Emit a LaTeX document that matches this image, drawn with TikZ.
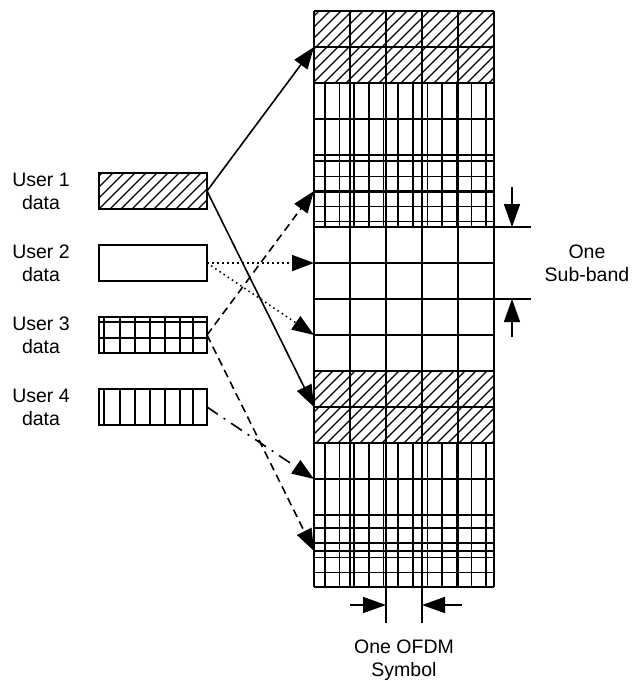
\documentclass[tikz,border=0pt]{standalone}
\usepackage{fontspec}
\setmainfont{Liberation Sans}
\usetikzlibrary{arrows.meta}
\newcommand\myhatch[4]{%
  \begin{scope}
  \clip (#1,#2) rectangle (#3,#4);
  \pgfmathsetmacro\hs{floor((#1+#2)/11)*11}
  \pgfmathsetmacro\he{#3+#4}
  \pgfmathsetmacro\hn{\hs+11}
  \foreach \k in {\hs,\hn,...,\he} \draw[hatchline] (\k-#4,#4) -- (\k-#2,#2);
  \end{scope}}
\begin{document}
\begin{tikzpicture}[x=1pt,y=-1pt,
  gridline/.style={line width=2pt},
  patline/.style={line width=1.7pt},
  hatchline/.style={line width=1.1pt},
  databox/.style={draw,line width=2pt,minimum width=108pt,minimum height=36pt,inner sep=0pt,outer sep=0pt},
  lbl/.style={align=center,inner sep=0pt,font=\fontsize{19.5}{23}\selectfont},
  tip/.style={-{Triangle[length=22pt,width=16pt]}},
  conn/.style={line width=1.6pt,tip},
  dotconn/.style={conn,dash pattern=on 1.5pt off 3.5pt},
  dashconn/.style={conn,dash pattern=on 8pt off 5pt},
  dashdotconn/.style={conn,dash pattern=on 13pt off 7pt on 2pt off 7pt},
  marker/.style={line width=1.6pt},
  markarrow/.style={line width=1.6pt,-{Triangle[length=23pt,width=16pt]}}
]
\useasboundingbox (0,0) rectangle (635,681);
\fill[white] (0,0) rectangle (635,681);

% ---- patterns in the grid ----
\myhatch{314}{11}{494}{83}
\myhatch{314}{371}{494}{443}
\foreach \yy/\yb in {83/155,155/227,443/515,515/587}
  \foreach \k in {0,...,11}
    \draw[patline] ({325+14.64*\k},\yy) -- ({325+14.64*\k},\yb);
\foreach \yy in {161,176.5,192,206.5,221.5,528,543,557.5,572.5}
  \draw[patline] (314,\yy) -- (494,\yy);

% ---- grid ----
\foreach \xx in {314,350,386,422,458,494}
  \draw[gridline] (\xx,11) -- (\xx,587);
\foreach \k in {0,...,16}
  \draw[gridline] (314,{11+36*\k}) -- (494,{11+36*\k});

% ---- data boxes ----
\myhatch{99}{173}{207}{209}
\foreach \xx in {104,120,135,150,165,180,193} {
  \draw[patline] (\xx,317) -- (\xx,353);
  \draw[patline] (\xx,389) -- (\xx,425);
}
\foreach \yy in {322,338}
  \draw[patline] (99,\yy) -- (207,\yy);
\node[databox] (u1) at (153,191) {};
\node[databox] (u2) at (153,263) {};
\node[databox] (u3) at (153,335) {};
\node[databox] (u4) at (153,407) {};

% ---- labels ----
\node[lbl] (l1) at (41,191) {User 1\\data};
\node[lbl] (l2) at (41,263) {User 2\\data};
\node[lbl] (l3) at (41,335) {User 3\\data};
\node[lbl] (l4) at (41,407) {User 4\\data};

% ---- targets ----
\coordinate (g1a) at (314,47);
\coordinate (g1b) at (314,407);
\coordinate (g2a) at (314,263);
\coordinate (g2b) at (314,335);
\coordinate (g3a) at (314,191);
\coordinate (g3b) at (314,551);
\coordinate (g4a) at (314,479);

% ---- connectors ----
\draw[conn] (u1.east) -- (g1a);
\draw[conn] (u1.east) -- (g1b);
\draw[dotconn] (u2.east) -- (g2a);
\draw[dotconn] (u2.east) -- (g2b);
\draw[dashconn] (u3.east) -- (g3a);
\draw[dashconn] (u3.east) -- (g3b);
\draw[dashdotconn] (u4.east) -- (g4a);

% ---- sub-band marker ----
\coordinate (sbt) at (494,227);
\coordinate (sbte) at (531,227);
\coordinate (sbb) at (494,299);
\coordinate (sbbe) at (531,299);
\coordinate (sbas) at (512,187);
\coordinate (sbat) at (512,227);
\coordinate (sbbs) at (512,337);
\coordinate (sbbt) at (512,299);
\draw[marker] (sbt) -- (sbte);
\draw[marker] (sbb) -- (sbbe);
\draw[markarrow] (sbas) -- (sbat);
\draw[markarrow] (sbbs) -- (sbbt);
\node[lbl] (sbl) at (587,263.5) {One\\Sub-band};

% ---- OFDM symbol marker ----
\coordinate (ofl0) at (386,587);
\coordinate (ofl1) at (386,623);
\coordinate (ofr0) at (422,587);
\coordinate (ofr1) at (422,623);
\coordinate (ofas) at (350,605);
\coordinate (ofat) at (386,605);
\coordinate (ofbs) at (462,605);
\coordinate (ofbt) at (422,605);
\draw[marker] (ofl0) -- (ofl1);
\draw[marker] (ofr0) -- (ofr1);
\draw[markarrow] (ofas) -- (ofat);
\draw[markarrow] (ofbs) -- (ofbt);
\node[lbl,anchor=north] (ofl) at (404,640) {One OFDM\\Symbol};
\end{tikzpicture}
\end{document}
